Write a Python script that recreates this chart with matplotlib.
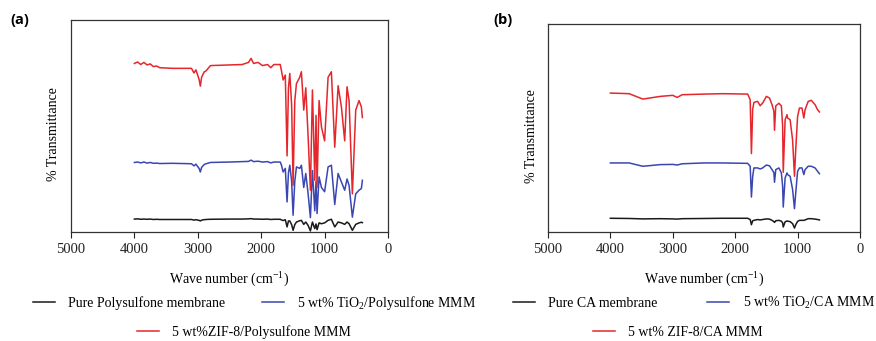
import matplotlib
matplotlib.use("Agg")
import matplotlib.pyplot as plt

plt.rcParams['font.family'] = ['Liberation Serif', 'DejaVu Serif']
plt.rcParams['mathtext.fontset'] = 'custom'
plt.rcParams['mathtext.rm'] = 'Liberation Serif'
plt.rcParams['mathtext.it'] = 'Liberation Serif:italic'

# ---------------- Panel (a) data : Polysulfone ----------------
a_wn = [4000, 3950, 3900, 3850, 3800, 3750, 3700, 3650, 3600, 3400, 3100, 3060, 3030,
        2980, 2960, 2940, 2900, 2870, 2800, 2500, 2300, 2200, 2160, 2120, 2050, 1980,
        1900, 1850, 1800, 1700, 1680, 1654, 1620, 1592, 1570, 1549, 1520, 1497, 1470,
        1444, 1392, 1366, 1329, 1297, 1260, 1224, 1192, 1155, 1135, 1119, 1087, 1050,
        1000, 945, 893, 840, 787, 735, 683, 646, 614, 562, 509, 457, 420, 404]
a_red = [79.5, 80.2, 79.0, 80.0, 78.8, 79.3, 78.0, 78.3, 77.5, 77.2, 77.2, 75.0, 76.5,
         72.0, 68.8, 73.0, 75.5, 76.0, 78.5, 78.8, 79.0, 80.0, 81.9, 79.5, 80.0, 78.5,
         79.0, 77.5, 79.0, 79.0, 76.0, 71.7, 74.0, 35.9, 68.0, 74.8, 60.0, 22.0, 62.0,
         70.0, 73.0, 75.6, 57.5, 68.0, 45.0, 19.7, 67.0, 24.4, 55.0, 21.0, 62.0, 49.6,
         43.0, 73.0, 75.6, 40.0, 69.0, 59.0, 43.0, 68.5, 62.0, 18.0, 57.5, 62.0, 59.0, 54.0]
a_blue = [32.8, 33.0, 32.6, 33.0, 32.5, 32.8, 32.4, 32.5, 32.3, 32.4, 32.2, 31.2, 32.0,
          30.0, 28.3, 30.5, 31.8, 32.2, 32.8, 33.0, 33.2, 33.3, 33.9, 33.2, 33.4, 33.0,
          33.2, 32.6, 33.0, 33.0, 31.5, 28.3, 30.0, 14.2, 28.0, 31.5, 24.0, 7.9, 24.0,
          30.7, 30.0, 31.5, 21.0, 27.6, 18.0, 6.8, 29.0, 10.0, 24.0, 8.7, 26.0, 21.0,
          19.0, 30.7, 31.5, 13.0, 27.6, 23.6, 19.7, 25.0, 22.0, 7.0, 18.0, 19.7, 20.5, 24.4]
a_black = [6.1, 6.2, 6.0, 6.1, 6.0, 6.1, 5.9, 6.0, 5.9, 5.9, 5.9, 5.6, 5.8,
           5.5, 5.2, 5.6, 5.8, 5.9, 6.0, 6.1, 6.1, 6.2, 6.3, 6.1, 6.1, 6.0,
           6.1, 5.9, 6.0, 6.0, 5.7, 5.4, 5.8, 2.4, 5.2, 5.2, 3.5, 0.8, 3.5,
           4.7, 5.3, 5.5, 3.6, 4.7, 3.1, 0.5, 4.7, 1.6, 3.8, 1.1, 4.3, 3.9,
           4.3, 5.5, 6.0, 2.4, 4.7, 4.3, 3.6, 4.7, 3.9, 0.8, 3.6, 4.3, 4.6, 4.4]

# ---------------- Panel (b) data : Cellulose acetate ----------------
b_wn = [4000, 3700, 3480, 3200, 3000, 2930, 2850, 2500, 2200, 1800, 1760, 1740, 1720,
        1700, 1640, 1600, 1560, 1500, 1450, 1410, 1380, 1370, 1350, 1300, 1260, 1240,
        1230, 1200, 1170, 1160, 1120, 1080, 1050, 1030, 1000, 970, 930, 900, 880, 830,
        780, 720, 680, 650]
b_red = [66.8, 66.5, 63.9, 65.2, 65.7, 64.7, 66.0, 66.3, 66.5, 66.3, 63.6, 37.7, 59.0,
         62.3, 62.8, 60.7, 62.0, 65.2, 64.4, 61.2, 58.0, 48.9, 60.6, 61.9, 60.6, 51.0,
         28.7, 54.0, 56.4, 54.8, 54.0, 44.2, 26.8, 39.6, 55.6, 59.6, 59.6, 54.8, 58.8,
         62.8, 63.3, 61.2, 58.8, 57.7]
b_blue = [33.2, 33.2, 31.6, 32.4, 32.5, 32.2, 32.8, 33.2, 33.2, 33.0, 31.6, 16.8, 26.7,
          30.8, 30.8, 30.3, 30.8, 32.2, 31.8, 30.0, 28.5, 23.9, 30.0, 30.8, 28.4, 22.0,
          12.0, 26.0, 28.4, 27.6, 26.8, 20.4, 11.2, 18.8, 29.2, 30.8, 30.8, 27.6, 30.0,
          31.6, 31.6, 30.8, 29.2, 28.0]
b_black = [6.6, 6.5, 6.3, 6.4, 6.3, 6.2, 6.4, 6.5, 6.6, 6.6, 6.0, 3.5, 5.4,
           5.6, 6.0, 5.8, 6.0, 6.3, 6.2, 5.6, 5.0, 4.6, 5.4, 5.6, 5.2, 4.4,
           2.4, 4.9, 5.3, 5.2, 5.0, 4.0, 1.9, 3.5, 5.1, 5.6, 5.6, 5.6, 5.8,
           6.4, 6.4, 6.2, 6.0, 5.8]

a_labels = ['Pure Polysulfone membrane', '5 wt% TiO$_2$/Polysulfone MMM',
            '5 wt%ZIF-8/Polysulfone MMM']
b_labels = ['Pure CA membrane', '5 wt% TiO$_2$/CA MMM', '5 wt% ZIF-8/CA MMM']
xticks = [5000, 4000, 3000, 2000, 1000, 0]

c_black = '#1a1a1a'
c_blue = '#3a46b2'
c_red = '#e5262c'

W, H = 876, 341
fig = plt.figure(figsize=(W / 100, H / 100), dpi=100)

def fx(px):
    return px / W

def fy(py):
    return 1 - py / H

ax_a = fig.add_axes([fx(71), fy(232), fx(388) - fx(71), fy(20) - fy(232)])
ax_b = fig.add_axes([fx(548), fy(232), fx(860) - fx(548), fy(24) - fy(232)])

def style(ax):
    ax.set_xlim(5000, 0)
    ax.set_ylim(0, 100)
    ax.set_xticks(xticks)
    ax.set_xticklabels([str(t) for t in xticks], fontsize=10.5)
    ax.set_yticks([])
    ax.tick_params(axis='x', direction='out', length=4, width=0.8, pad=4, colors='#222222')
    for s in ax.spines.values():
        s.set_linewidth(0.9)
        s.set_color('#333333')
    ax.set_xlabel('Wave number (cm$^{-1}$)', fontsize=10)
    ax.set_ylabel('% Transmittance', fontsize=10)

lw = 1.1
la1, = ax_a.plot(a_wn, a_black, color=c_black, lw=lw)
la2, = ax_a.plot(a_wn, a_blue, color=c_blue, lw=lw)
la3, = ax_a.plot(a_wn, a_red, color=c_red, lw=lw)
style(ax_a)
ax_a.xaxis.set_label_coords(0.5, -0.185)
ax_a.yaxis.set_label_coords(-0.035, 0.46)

lb1, = ax_b.plot(b_wn, b_black, color=c_black, lw=lw)
lb2, = ax_b.plot(b_wn, b_blue, color=c_blue, lw=lw)
lb3, = ax_b.plot(b_wn, b_red, color=c_red, lw=lw)
style(ax_b)
ax_b.xaxis.set_label_coords(0.5, -0.188)
ax_b.yaxis.set_label_coords(-0.032, 0.46)

fig.text(fx(10), fy(20), '(a)', fontsize=10.5, fontweight='bold',
         family='Open Sans', va='center', ha='left')
fig.text(fx(493), fy(20), '(b)', fontsize=10.5, fontweight='bold',
         family='Open Sans', va='center', ha='left')

leg_kw = dict(frameon=False, fontsize=10, handlelength=1.6, handletextpad=0.95,
              borderpad=0, borderaxespad=0, loc='center left')

fig.legend(handles=[la1, la2], labels=a_labels[:2], ncol=2, columnspacing=2.6,
           bbox_to_anchor=(fx(33), fy(303)), **leg_kw)
fig.legend(handles=[la3], labels=a_labels[2:], ncol=1,
           bbox_to_anchor=(fx(137), fy(332)), **leg_kw)
fig.legend(handles=[lb1, lb2], labels=b_labels[:2], ncol=2, columnspacing=3.55,
           bbox_to_anchor=(fx(513), fy(303)), **leg_kw)
fig.legend(handles=[lb3], labels=b_labels[2:], ncol=1,
           bbox_to_anchor=(fx(593), fy(332)), **leg_kw)

fig.savefig('out.png', dpi=100)
